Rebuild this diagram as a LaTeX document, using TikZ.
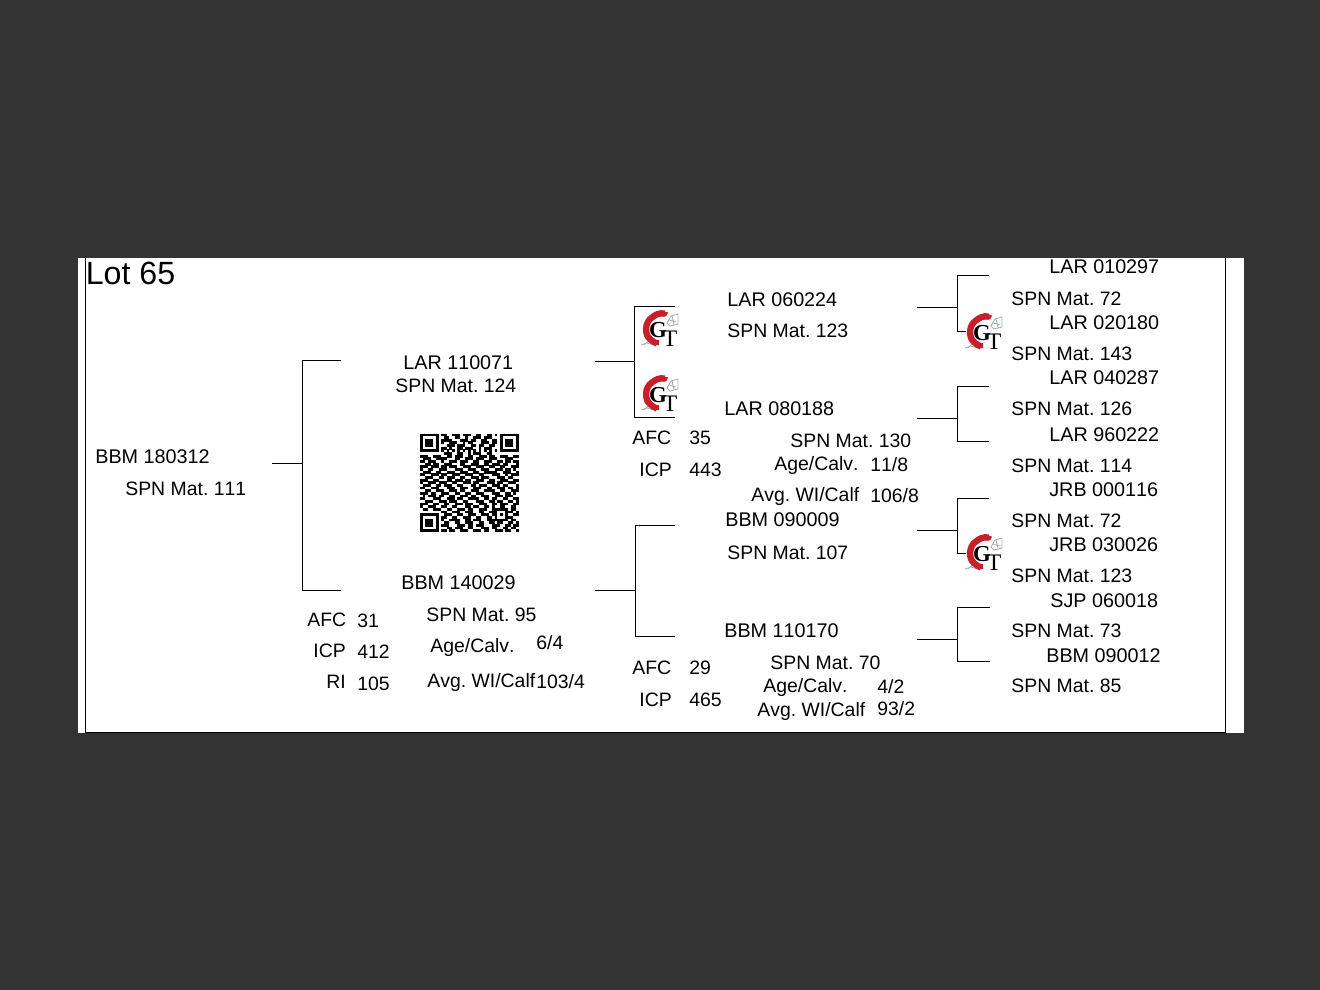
\documentclass[tikz,border=0pt]{standalone}
\usepackage{fontspec}
\setmainfont[Kerning=Off]{Liberation Sans}
\newfontfamily\logoserif{Liberation Serif}
\definecolor{pagebg}{HTML}{333333}
\definecolor{logored}{HTML}{C8202A}
\definecolor{logogray}{HTML}{A9B0B4}
\tikzset{
  txt/.style={anchor=west,inner sep=0pt,yshift=-0.6pt,font=\fontsize{11.05pt}{13pt}\selectfont\frenchspacing,text=black},
  reg/.style={txt,font=\fontsize{11.25pt}{13pt}\selectfont\frenchspacing},
  rule/.style={draw=black,line width=0.55pt},
}
% QR renderer: one row of 0/1 characters
\newcount\qrx
\newcount\qry
\def\qrparse#1{\ifx#1;\let\qrnext\relax\else
  \if#11\fill[black] ({420+2.662*\the\qrx},{433.5+2.662*\the\qry}) rectangle ({422.75+2.662*\the\qrx},{436.25+2.662*\the\qry});\fi
  \global\advance\qrx by 1 \let\qrnext\qrparse\fi\qrnext}
\def\qrrow#1{\global\qrx=0 \qrparse#1;\global\advance\qry by 1 }
% logo
\newcommand{\gtlogo}[3]{%
  \begin{scope}[shift={(#1,#2)}]
    \fill[white] (2,0) rectangle (38,36);
    \draw[logogray,line width=0.5pt] (27,12) -- (31,5) -- (38,3) -- (38,13) -- (30,15) -- cycle (29,9) -- (36,11) (32,5) -- (34,13);
    \draw[logogray,line width=0.5pt] (1,34) -- (7,32) -- (12,33.5) (4,34) -- (8,30);
    \draw[logored,line width=3.6pt] (25,2.5) .. controls (19,1.5) and (15,4) .. (12,6.5) .. controls (4.5,11) and (4.5,24) .. (10,28) .. controls (12,30) and (14,31.5) .. (17,32.5);
    \fill[logored] (22,0) -- (28,1.5) -- (26,5.5) -- (20,5) -- cycle;
    \fill[logored] (11,30) -- (19,29) -- (19,34) -- (13,34) -- cycle;
    \node[inner sep=0pt,font=\logoserif\bfseries\fontsize{13pt}{13pt}\selectfont,text=black] (#3g) at (18,19.5) {G};
    \node[inner sep=0pt,font=\logoserif\fontsize{13.5pt}{13pt}\selectfont,text=black] (#3t) at (30,27.5) {T};
  \end{scope}}
% bracket: name, stem start x, junction x, top y, stem y, bottom y, end x top, end x bottom
\newcommand{\bracket}[8]{%
  \coordinate (#1in) at (#2,#5);
  \coordinate (#1j) at (#3,#5);
  \coordinate (#1t) at (#3,#4);
  \coordinate (#1b) at (#3,#6);
  \coordinate (#1te) at (#7,#4);
  \coordinate (#1be) at (#8,#6);
  \draw[rule] (#1in) -- (#1j);
  \draw[rule] (#1te) -- (#1t) -- (#1b) -- (#1be);}
\begin{document}
\begin{tikzpicture}[x=0.02cm,y=-0.02cm]
\useasboundingbox (0,0) rectangle (1320,990);
\fill[pagebg] (0,0) rectangle (1320,990);
\fill[white] (78,258) rectangle (1244,733);
\draw[black,line width=0.7pt] (85.5,258) -- (85.5,732.5) -- (1225.5,732.5) -- (1225.5,258);

% connectors
\bracket{ba}{272}{302.5}{360.5}{463.5}{590.5}{341}{341}
\bracket{bb}{595}{634.5}{306.5}{361.5}{417.5}{675}{675}
\bracket{bc}{595}{635.5}{525.5}{590.5}{636.5}{675}{675}
\bracket{bd}{917}{957.5}{275.5}{307.5}{331.5}{989}{989}
\bracket{be}{917}{957.5}{386.5}{418.5}{441.5}{989}{989}
\bracket{bf}{917}{957.5}{498.5}{530.5}{553.5}{989}{989}
\bracket{bg}{917}{957.5}{607.5}{639.5}{661.5}{990}{990}

% logos
\gtlogo{640}{311}{la}
\gtlogo{640}{376}{lb}
\gtlogo{964}{314}{lc}
\gtlogo{964}{535}{ld}

\node[anchor=west,inner sep=0pt,font=\fontsize{18.3pt}{20pt}\selectfont] (lot) at (85.5,273) {Lot 65};

\node[reg] (t01) at (95,456) {BBM 180312};
\node[txt] (t02) at (125,488) {SPN Mat. 111};
\node[reg] (t03) at (403,362) {LAR 110071};
\node[txt] (t04) at (395,385) {SPN Mat. 124};
\node[reg] (t05) at (401,582) {BBM 140029};
\node[txt] (t06) at (307,619) {AFC};
\node[txt] (t07) at (357,620) {31};
\node[txt] (t08) at (313,650) {ICP};
\node[txt] (t09) at (357,651) {412};
\node[txt] (t10) at (326,681) {RI};
\node[txt] (t11) at (357,683) {105};
\node[txt] (t12) at (426,614) {SPN Mat. 95};
\node[txt] (t13) at (430,646) {Age/Calv.};
\node[txt] (t14) at (536,642) {6/4};
\node[txt] (t15) at (427,681) {Avg. WI/Calf};
\node[txt] (t16) at (536,681) {103/4};

\node[reg] (t17) at (727,299) {LAR 060224};
\node[txt] (t18) at (727,330) {SPN Mat. 123};
\node[reg] (t19) at (724,408) {LAR 080188};
\node[txt] (t20) at (632,437) {AFC};
\node[txt] (t21) at (689,437) {35};
\node[txt] (t22) at (639,469) {ICP};
\node[txt] (t23) at (689,469) {443};
\node[txt] (t24) at (790,440) {SPN Mat. 130};
\node[txt] (t25) at (774,464) {Age/Calv.};
\node[txt] (t26) at (870,464) {11/8};
\node[txt] (t27) at (751,495) {Avg. WI/Calf};
\node[txt] (t28) at (870,495) {106/8};
\node[reg] (t29) at (725,519) {BBM 090009};
\node[txt] (t30) at (727,552) {SPN Mat. 107};
\node[reg] (t31) at (724,630) {BBM 110170};
\node[txt] (t32) at (632,667) {AFC};
\node[txt] (t33) at (689,667) {29};
\node[txt] (t34) at (639,699) {ICP};
\node[txt] (t35) at (689,699) {465};
\node[txt] (t36) at (770,662) {SPN Mat. 70};
\node[txt] (t37) at (763,686) {Age/Calv.};
\node[txt] (t38) at (877,686) {4/2};
\node[txt] (t39) at (757,710) {Avg. WI/Calf};
\node[txt] (t40) at (877,708) {93/2};

\node[reg] (r01) at (1049,266) {LAR 010297};
\node[txt] (r02) at (1011,298) {SPN Mat. 72};
\node[reg] (r03) at (1049,322) {LAR 020180};
\node[txt] (r04) at (1011,353) {SPN Mat. 143};
\node[reg] (r05) at (1049,377) {LAR 040287};
\node[txt] (r06) at (1011,408) {SPN Mat. 126};
\node[reg] (r07) at (1049,434) {LAR 960222};
\node[txt] (r08) at (1011,465) {SPN Mat. 114};
\node[reg] (r09) at (1049,489) {JRB 000116};
\node[txt] (r10) at (1011,520) {SPN Mat. 72};
\node[reg] (r11) at (1049,544) {JRB 030026};
\node[txt] (r12) at (1011,575) {SPN Mat. 123};
\node[reg] (r13) at (1050,600) {SJP 060018};
\node[txt] (r14) at (1011,630) {SPN Mat. 73};
\node[reg] (r15) at (1046,655) {BBM 090012};
\node[txt] (r16) at (1011,685) {SPN Mat. 85};

% QR code
\qrrow{1111111011001110111001100110101111111}
\qrrow{1000001001100110010011101110001000001}
\qrrow{1011101011110001110110011001101011101}
\qrrow{1011101010011100101100011101101011101}
\qrrow{1011101000111011100110110011001011101}
\qrrow{1000001011010011011100101110001000001}
\qrrow{1111111010101010101010101010101111111}
\qrrow{0000000001110011001011100110000000000}
\qrrow{1110011100110111001100111011001110011}
\qrrow{0111001111000110011101110011100011100}
\qrrow{1101110010011101110011001110011011011}
\qrrow{0011011001110001100111001101110110001}
\qrrow{1110111011011100111001110011001100111}
\qrrow{1001100111000111001110011100111011010}
\qrrow{0111001100111001110011001111100111001}
\qrrow{1100111011001110011100110001110010111}
\qrrow{0011100110111001100111011100011101100}
\qrrow{1110011000110111011001110011001110011}
\qrrow{1001110111001100111011000111011001110}
\qrrow{0111001101110011000110111001110110001}
\qrrow{1100111000111001110011100110011101101}
\qrrow{0011001110011101100111001111001100111}
\qrrow{1110110011100110011001110001110011010}
\qrrow{0101110110011001110110011100111011100}
\qrrow{1100011100111011001111001101100110011}
\qrrow{0011100111011100110001110011011001101}
\qrrow{1110011001100111011100111001101110011}
\qrrow{1001110011001100011011001101001100110}
\qrrow{0110011100110011101100111001111110110}
\qrrow{0000000011001110011100110011100011101}
\qrrow{1111111001110011001110011101101010011}
\qrrow{1000001011001100111001100110100011100}
\qrrow{1011101010011110011011100111111110110}
\qrrow{1011101001100110011100110011011001101}
\qrrow{1011101011100011101101110001110011011}
\qrrow{1000001000110111001100011101100110110}
\qrrow{1111111011011001110011101100111011001}
\end{tikzpicture}
\end{document}
